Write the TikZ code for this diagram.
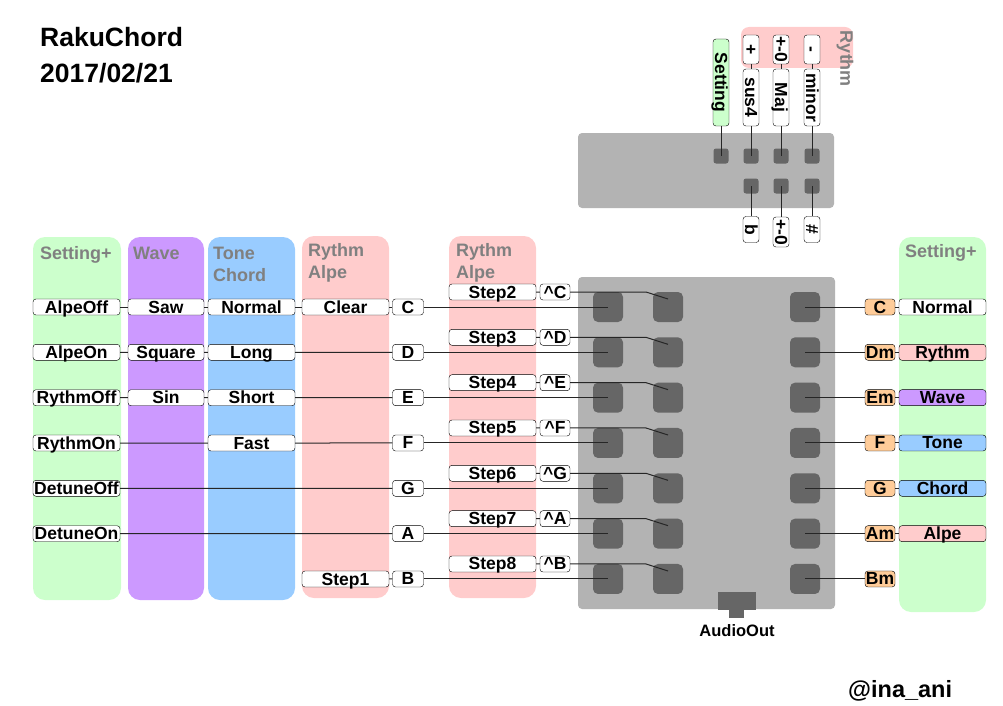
\documentclass[tikz,border=0pt]{standalone}
\usepackage{fontspec}
\setmainfont{Liberation Sans}
\usetikzlibrary{positioning}

\definecolor{setgreen}{HTML}{CCFFCC}
\definecolor{wavepurple}{HTML}{CC99FF}
\definecolor{toneblue}{HTML}{99CCFF}
\definecolor{rythmpink}{HTML}{FFCCCC}
\definecolor{keyorange}{HTML}{FFCC99}
\definecolor{boardgray}{HTML}{B3B3B3}
\definecolor{padgray}{HTML}{666666}
\definecolor{headgray}{HTML}{808080}

\begin{document}
\begin{tikzpicture}[x=1pt,y=-1pt,
    lbl/.style={draw,fill=white,rounded corners=3pt,inner sep=0pt,minimum height=16pt,
      text height=14pt,text depth=2pt,font=\fontsize{17.5}{17.5}\selectfont\bfseries},
    wide/.style={lbl,minimum width=87pt},
    key/.style={lbl,minimum width=31pt},
    vlbl/.style={lbl,rotate=-90},
    head/.style={anchor=base west,inner sep=0pt,text=headgray,font=\fontsize{18}{18}\selectfont\bfseries},
    pad/.style={fill=padgray,rounded corners=5pt,inner sep=0pt,minimum size=30pt},
    spad/.style={fill=padgray,rounded corners=2.5pt,inner sep=0pt,minimum size=15pt},
    wire/.style={draw=black!85,line width=1pt}
    ]

    \useasboundingbox (0,0) rectangle (1003,706);

    \node (title) [anchor=base west,inner sep=0pt,font=\fontsize{26.5}{26.5}\selectfont\bfseries] at (40,47) {RakuChord};
    \node (date) [anchor=base west,inner sep=0pt,font=\fontsize{26.5}{26.5}\selectfont\bfseries] at (40,83) {2017/02/21};
    \node (author) [anchor=base west,inner sep=0pt,font=\fontsize{23.5}{23.5}\selectfont\bfseries] at (848,697) {@ina\_ani};

    % columns
    \fill[setgreen,rounded corners=12pt] (33,237) rectangle (121,600);
    \fill[wavepurple,rounded corners=12pt] (128,237) rectangle (204,600);
    \fill[toneblue,rounded corners=12pt] (208,237) rectangle (295,600);
    \fill[rythmpink,rounded corners=12pt] (302,236) rectangle (389,598);
    \fill[rythmpink,rounded corners=12pt] (449,236) rectangle (536,598);
    \fill[setgreen,rounded corners=12pt] (899,237) rectangle (986,612);
    \fill[rythmpink,rounded corners=8pt] (741,27) rectangle (853,68);

    \node (hd-set) [head] at (40,259) {Setting+};
    \node (hd-wave) [head] at (133,259) {Wave};
    \node (hd-tone) [head] at (213,259) {Tone};
    \node (hd-chord) [head] at (213,281) {Chord};
    \node (hd-ry1) [head] at (308,256) {Rythm};
    \node (hd-al1) [head] at (308,278) {Alpe};
    \node (hd-ry2) [head] at (456,256) {Rythm};
    \node (hd-al2) [head] at (456,278) {Alpe};
    \node (hd-set2) [head] at (905,257) {Setting+};
    \node (hd-top) [head,anchor=center,rotate=-90] at (845,59) {Rythm};

    % boards
    \fill[boardgray,rounded corners=4pt] (578,133) rectangle (834,208);
    \fill[boardgray,rounded corners=4pt] (578,277) rectangle (835,609);
    \fill[padgray] (718,592) rectangle (756,610);
    \fill[padgray] (729,610) rectangle (744,618);
    \node (audio) [inner sep=0pt,font=\fontsize{16.5}{16.5}\selectfont\bfseries] at (737,631) {AudioOut};

    % small board
    \foreach \j/\x in {1/721,2/751,3/781,4/812}
      \node (q\j) [spad] at (\x,156) {};
    \foreach \j/\x in {2/751,3/781,4/812}
      \node (r\j) [spad] at (\x,186) {};

    \node (tset) [vlbl,minimum width=87pt,fill=setgreen] at (721,82.5) {Setting};
    \node (tplus) [vlbl,minimum width=29pt] at (751,49.5) {+};
    \node (tsus) [vlbl,minimum width=57pt] at (751,97.5) {sus4};
    \node (tpm) [vlbl,minimum width=29pt] at (781,49.5) {+-0};
    \node (tmaj) [vlbl,minimum width=57pt] at (781,97.5) {Maj};
    \node (tminus) [vlbl,minimum width=29pt] at (812,49.5) {-};
    \node (tminor) [vlbl,minimum width=57pt] at (812,97.5) {minor};
    \node (tflat) [vlbl,minimum width=26pt] at (751,229.5) {b};
    \node (tpm2) [vlbl,minimum width=30pt] at (781,232) {+-0};
    \node (tsharp) [vlbl,minimum width=26pt] at (812,229.5) {\#};

    \draw[wire] (tset) -- (q1.center);
    \draw[wire] (tplus) -- (tsus) -- (q2.center);
    \draw[wire] (tpm) -- (tmaj) -- (q3.center);
    \draw[wire] (tminus) -- (tminor) -- (q4.center);
    \draw[wire] (r2.center) -- (tflat);
    \draw[wire] (r3.center) -- (tpm2);
    \draw[wire] (r4.center) -- (tsharp);

    % left labels
    \node (so0) [wide] at (76.5,307) {AlpeOff};
    \node (so1) [wide] at (76.5,352.3) {AlpeOn};
    \node (so2) [wide] at (76.5,397.7) {RythmOff};
    \node (so3) [wide] at (76.5,443) {RythmOn};
    \node (so4) [wide] at (76.5,488.3) {DetuneOff};
    \node (so5) [wide] at (76.5,533.7) {DetuneOn};
    \node (wv0) [lbl,minimum width=76pt] at (166,307) {Saw};
    \node (wv1) [lbl,minimum width=76pt] at (166,352.3) {Square};
    \node (wv2) [lbl,minimum width=76pt] at (166,397.7) {Sin};
    \node (tn0) [wide] at (251.5,307) {Normal};
    \node (tn1) [wide] at (251.5,352.3) {Long};
    \node (tn2) [wide] at (251.5,397.7) {Short};
    \node (tn3) [wide] at (251.5,443) {Fast};
    \node (cl) [wide] at (345.5,307) {Clear};
    \node (st1) [wide] at (345.5,579) {Step1};

    % main board rows
    \foreach \i/\n/\c in {0/C/C,1/D/Dm,2/E/Em,3/F/F,4/G/G,5/A/Am,6/B/Bm}
      {\pgfmathsetmacro\y{307+45.33*\i}
        \pgfmathtruncatemacro\s{\i+2}
        \node (p1-\i) [pad] at (608,\y) {};
        \node (p2-\i) [pad] at (668,\y) {};
        \node (p3-\i) [pad] at (805,\y) {};
        \node (n\i) [key] at (408,\y) {\n};
        \node (st\s) [wide] at (492.5,\y-15) {Step\s};
        \node (k\i) [lbl,minimum width=30pt] at (555,\y-15) {\textasciicircum\n};
        \node (ch\i) [lbl,minimum width=30pt,fill=keyorange] at (880,\y) {\c};
        \draw[wire] (n\i) -- (p1-\i.center);
        \draw[wire] (st\s) -- (k\i) -- ++(91,0) -- ([yshift=8pt]p2-\i.center);
        \draw[wire] (p3-\i.center) -- (ch\i);
      }

    \foreach \i/\t/\f in {0/Normal/white,1/Rythm/rythmpink,2/Wave/wavepurple,3/Tone/toneblue,4/Chord/toneblue,5/Alpe/rythmpink}
      {\node (fn\i) [wide,fill=\f] at (942.5,307+45.33*\i) {\t};
        \draw[wire] (ch\i) -- (fn\i);
      }

    \draw[wire] (so0) -- (wv0) -- (tn0) -- (cl) -- (n0);
    \draw[wire] (so1) -- (wv1) -- (tn1) -- (n1);
    \draw[wire] (so2) -- (wv2) -- (tn2) -- (n2);
    \draw[wire] (so3) -- (tn3) -- (n3);
    \draw[wire] (so4) -- (n4);
    \draw[wire] (so5) -- (n5);
    \draw[wire] (st1) -- (n6);

  \end{tikzpicture}
\end{document}
